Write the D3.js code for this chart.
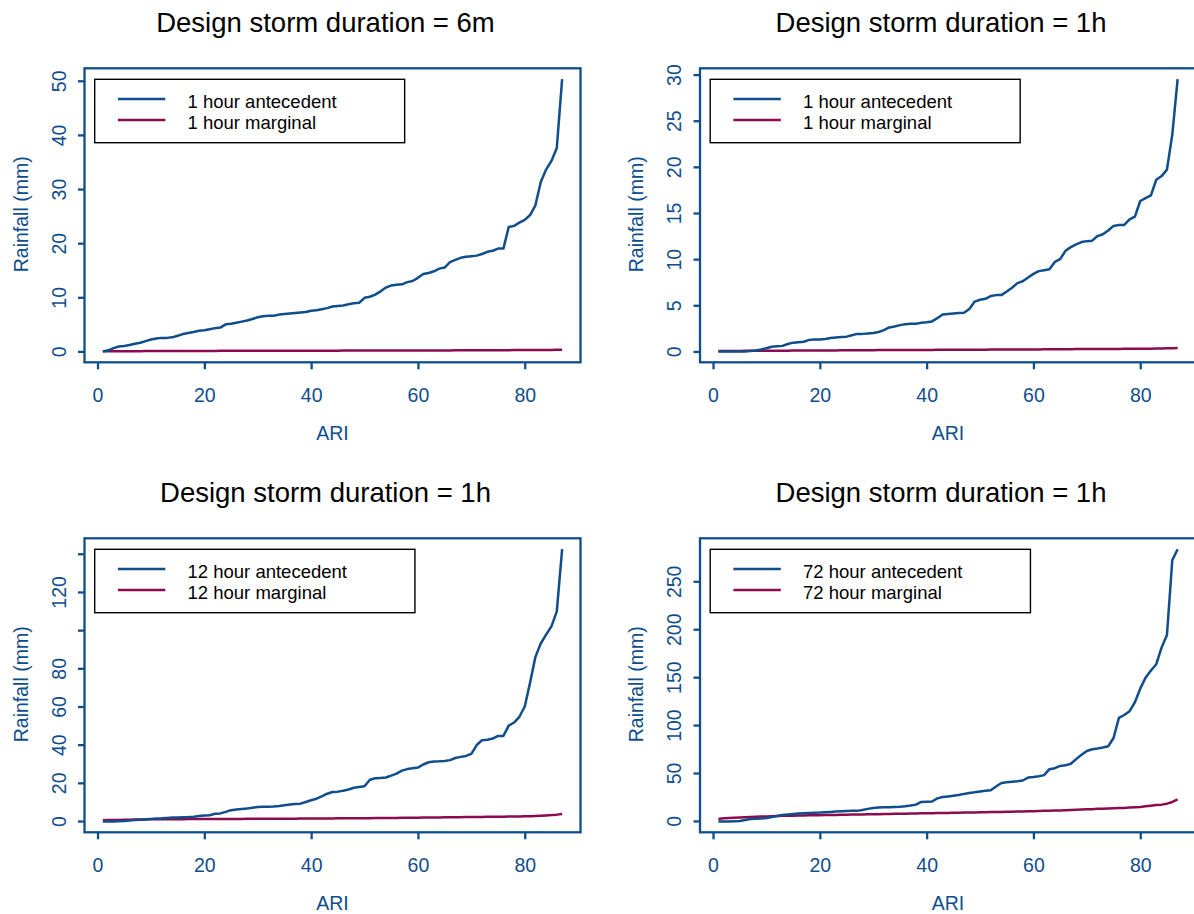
<!DOCTYPE html>
<html>
<head>
<meta charset="utf-8">
<script src="https://cdn.jsdelivr.net/npm/d3@7/dist/d3.min.js"></script>
<style>
  body { margin: 0; background: #ffffff; }
  svg { display: block; font-family: "Liberation Sans", Arial, Helvetica, sans-serif; }
</style>
</head>
<body>
<svg id="chart" width="1194" height="914"></svg>
<script>
// Rank of each event (x axis "ARI")
const ari = d3.range(1, 88);

// Design storm 6 minutes, 1 hour antecedent / marginal rainfall (mm)
const ante6m = [
  0.0, 0.2, 0.6, 0.9, 1.0, 1.2, 1.4, 1.6, 1.9, 2.2,
  2.4, 2.5, 2.5, 2.6, 2.9, 3.2, 3.4, 3.6, 3.8, 3.9,
  4.1, 4.3, 4.4, 5.0, 5.1, 5.3, 5.5, 5.7, 6.0, 6.3,
  6.5, 6.6, 6.6, 6.8, 6.9, 7.0, 7.1, 7.2, 7.3, 7.5,
  7.6, 7.8, 8.0, 8.3, 8.4, 8.5, 8.7, 8.9, 9.0, 9.9,
  10.1, 10.5, 11.1, 11.8, 12.2, 12.3, 12.4, 12.8, 13.0, 13.6,
  14.3, 14.5, 14.8, 15.3, 15.5, 16.5, 16.9, 17.3, 17.5, 17.6,
  17.7, 18.0, 18.4, 18.6, 19.0, 19.0, 23.0, 23.2, 23.8, 24.3,
  25.2, 27.0, 31.3, 33.6, 35.2, 37.6, 50.3
];
const marg6m = [
  0.02, 0.03, 0.03, 0.04, 0.04, 0.05, 0.05, 0.05, 0.06, 0.06,
  0.06, 0.07, 0.07, 0.07, 0.08, 0.08, 0.08, 0.08, 0.09, 0.09,
  0.09, 0.09, 0.10, 0.10, 0.10, 0.10, 0.11, 0.11, 0.11, 0.11,
  0.12, 0.12, 0.12, 0.12, 0.12, 0.13, 0.13, 0.13, 0.13, 0.13,
  0.14, 0.14, 0.14, 0.14, 0.14, 0.15, 0.15, 0.15, 0.15, 0.15,
  0.16, 0.16, 0.16, 0.16, 0.17, 0.17, 0.17, 0.17, 0.18, 0.18,
  0.18, 0.18, 0.19, 0.19, 0.19, 0.19, 0.20, 0.20, 0.20, 0.21,
  0.21, 0.21, 0.22, 0.22, 0.22, 0.23, 0.23, 0.24, 0.24, 0.25,
  0.25, 0.26, 0.26, 0.27, 0.28, 0.29, 0.31
];

// Design storm 1 hour, 1 hour antecedent / marginal rainfall (mm)
const ante1h = [
  0.0, 0.0, 0.0, 0.0, 0.0, 0.0, 0.05, 0.1, 0.2, 0.35,
  0.5, 0.55, 0.6, 0.8, 0.95, 1.0, 1.05, 1.25, 1.3, 1.3,
  1.35, 1.45, 1.5, 1.55, 1.6, 1.75, 1.9, 1.9, 1.95, 2.0,
  2.1, 2.3, 2.6, 2.7, 2.85, 2.95, 3.0, 3.0, 3.1, 3.15,
  3.25, 3.6, 4.0, 4.05, 4.1, 4.15, 4.2, 4.6, 5.4, 5.6,
  5.7, 6.0, 6.1, 6.1, 6.5, 6.9, 7.4, 7.6, 8.0, 8.4,
  8.7, 8.8, 8.9, 9.7, 10.0, 10.9, 11.3, 11.6, 11.85, 11.95,
  12.0, 12.5, 12.7, 13.1, 13.6, 13.7, 13.7, 14.3, 14.6, 16.3,
  16.6, 16.9, 18.6, 19.0, 19.7, 23.5, 29.5
];
const marg1h = [
  0.04, 0.04, 0.05, 0.05, 0.05, 0.06, 0.06, 0.06, 0.07, 0.07,
  0.07, 0.08, 0.08, 0.08, 0.09, 0.09, 0.09, 0.10, 0.10, 0.10,
  0.11, 0.11, 0.11, 0.12, 0.12, 0.12, 0.12, 0.13, 0.13, 0.13,
  0.14, 0.14, 0.14, 0.14, 0.15, 0.15, 0.15, 0.16, 0.16, 0.16,
  0.16, 0.17, 0.17, 0.17, 0.18, 0.18, 0.18, 0.18, 0.19, 0.19,
  0.19, 0.20, 0.20, 0.20, 0.21, 0.21, 0.21, 0.22, 0.22, 0.22,
  0.22, 0.23, 0.23, 0.23, 0.24, 0.24, 0.24, 0.25, 0.25, 0.25,
  0.26, 0.26, 0.26, 0.27, 0.27, 0.27, 0.28, 0.28, 0.29, 0.29,
  0.30, 0.30, 0.31, 0.32, 0.33, 0.34, 0.36
];

// Design storm 1 hour, 12 hour antecedent / marginal rainfall (mm)
const ante12h = [
  -0.2, -0.2, -0.2, -0.1, 0.0, 0.3, 0.5, 0.7, 0.9, 1.1,
  1.3, 1.4, 1.6, 1.8, 1.9, 2.0, 2.1, 2.3, 2.6, 2.9,
  3.0, 3.8, 4.0, 4.8, 5.7, 6.0, 6.3, 6.6, 7.0, 7.4,
  7.5, 7.5, 7.6, 7.9, 8.3, 8.7, 8.9, 9.1, 10.0, 10.9,
  11.7, 12.9, 14.3, 15.2, 15.4, 15.9, 16.5, 17.4, 17.8, 18.2,
  21.6, 22.4, 22.6, 22.8, 23.8, 24.8, 26.4, 27.2, 27.6, 28.0,
  29.6, 30.8, 31.2, 31.3, 31.5, 31.9, 33.0, 33.6, 34.1, 35.2,
  39.8, 42.3, 42.6, 43.2, 44.6, 44.6, 50.0, 51.6, 54.6, 60.0,
  72.5, 86.0, 93.0, 97.6, 102.0, 109.8, 142.4
];
const marg12h = [
  0.40, 0.50, 0.55, 0.60, 0.65, 0.70, 0.75, 0.80, 0.85, 0.90,
  0.90, 0.92, 0.94, 0.95, 0.96, 0.98, 1.00, 1.00, 1.02, 1.04,
  1.05, 1.06, 1.08, 1.09, 1.10, 1.11, 1.12, 1.14, 1.15, 1.16,
  1.17, 1.18, 1.20, 1.21, 1.22, 1.24, 1.25, 1.26, 1.28, 1.30,
  1.32, 1.34, 1.36, 1.38, 1.40, 1.42, 1.44, 1.46, 1.48, 1.50,
  1.52, 1.54, 1.57, 1.60, 1.62, 1.65, 1.68, 1.71, 1.74, 1.78,
  1.80, 1.83, 1.86, 1.90, 1.93, 1.96, 2.00, 2.03, 2.06, 2.10,
  2.13, 2.16, 2.20, 2.23, 2.26, 2.30, 2.34, 2.38, 2.42, 2.48,
  2.55, 2.65, 2.78, 2.92, 3.10, 3.35, 3.70
];

// Design storm 1 hour, 72 hour antecedent / marginal rainfall (mm)
const ante72h = [
  -0.5, -0.5, -0.5, -0.3, 0.0, 1.0, 2.0, 2.2, 2.5, 3.0,
  4.0, 5.2, 6.2, 6.7, 7.2, 7.8, 8.1, 8.4, 8.6, 8.7,
  9.0, 9.4, 9.8, 10.1, 10.4, 10.5, 10.5, 11.5, 12.6, 13.6,
  14.0, 14.3, 14.4, 14.6, 14.8, 15.2, 16.0, 17.0, 19.8, 20.0,
  20.3, 23.5, 25.0, 25.6, 26.3, 27.0, 28.2, 29.2, 29.9, 30.8,
  31.6, 32.1, 36.0, 39.6, 40.3, 40.8, 41.3, 42.2, 45.2, 45.8,
  46.6, 47.8, 54.0, 55.0, 57.4, 58.0, 59.6, 64.5, 69.0, 73.0,
  74.8, 75.6, 76.6, 77.9, 86.5, 107.5, 110.5, 114.5, 123.8, 138.0,
  149.5, 157.0, 163.5, 181.0, 194.0, 272.0, 283.5
];
const marg72h = [
  2.0, 2.8, 3.0, 3.3, 3.6, 3.9, 4.1, 4.3, 4.5, 4.7,
  4.9, 5.1, 5.3, 5.4, 5.5, 5.6, 5.7, 5.8, 5.9, 6.0,
  6.1, 6.2, 6.3, 6.4, 6.5, 6.6, 6.7, 6.8, 6.9, 7.0,
  7.1, 7.2, 7.3, 7.4, 7.5, 7.6, 7.7, 7.8, 7.9, 8.0,
  8.1, 8.2, 8.3, 8.4, 8.5, 8.6, 8.7, 8.8, 8.9, 9.0,
  9.1, 9.2, 9.3, 9.4, 9.5, 9.6, 9.8, 9.9, 10.0, 10.2,
  10.3, 10.5, 10.6, 10.8, 10.9, 11.1, 11.3, 11.6, 11.9, 12.1,
  12.3, 12.6, 12.8, 13.0, 13.2, 13.4, 13.6, 13.9, 14.2, 14.6,
  15.2, 15.9, 16.5, 17.0, 18.0, 19.8, 22.5
];

// Axis ticks and labels
const xTicks = [0, 20, 40, 60, 80];
const yTicks6m = [0, 10, 20, 30, 40, 50];
const yTicks1h = [0, 5, 10, 15, 20, 25, 30];
const yTicks12h = [0, 20, 40, 60, 80, 100, 120, 140];
const yLabels12h = ["0", "20", "40", "60", "80", "", "120", ""];
const yTicks72h = [0, 50, 100, 150, 200, 250];

const titles = [
  "Design storm duration = 6m",
  "Design storm duration = 1h",
  "Design storm duration = 1h",
  "Design storm duration = 1h"
];
const legend1h = ["1 hour antecedent", "1 hour marginal"];
const legend12h = ["12 hour antecedent", "12 hour marginal"];
const legend72h = ["72 hour antecedent", "72 hour marginal"];

const xLabel = "ARI";
const yLabel = "Rainfall (mm)";

// ---- styling / layout ----
const BLUE = "#104E8B";
const RED = "#8B0A50";
const boxW = 496, boxH = 294;
const tickFont = "19.5px";

const panels = [
  { left: 84.5, top: 68.3, title: titles[0], ante: ante6m, marg: marg6m, yTicks: yTicks6m, yLabels: null, legend: legend1h },
  { left: 700,  top: 68.3, title: titles[1], ante: ante1h, marg: marg1h, yTicks: yTicks1h, yLabels: null, legend: legend1h },
  { left: 84.5, top: 538.3, title: titles[2], ante: ante12h, marg: marg12h, yTicks: yTicks12h, yLabels: yLabels12h, legend: legend12h },
  { left: 700,  top: 538.3, title: titles[3], ante: ante72h, marg: marg72h, yTicks: yTicks72h, yLabels: null, legend: legend72h }
];

// R-style 4% padding of the data range
const pad = ([a, b]) => { const r = b - a; return [a - 0.04 * r, b + 0.04 * r]; };

const svg = d3.select("#chart");

panels.forEach(p => {
  const g = svg.append("g");
  const right = p.left + boxW, bottom = p.top + boxH;
  const cx = p.left + boxW / 2;

  const x = d3.scaleLinear().domain(pad(d3.extent(ari))).range([p.left, right]);
  const y = d3.scaleLinear()
    .domain(pad(d3.extent(p.ante.concat(p.marg))))
    .range([bottom, p.top]);

  // Series lines
  const line = vals => d3.line().x((d, i) => x(ari[i])).y(d => y(d))(vals);
  g.append("path").attr("d", line(p.marg))
    .attr("fill", "none").attr("stroke", RED).attr("stroke-width", 2.5)
    .attr("stroke-linejoin", "round");
  g.append("path").attr("d", line(p.ante))
    .attr("fill", "none").attr("stroke", BLUE).attr("stroke-width", 2.5)
    .attr("stroke-linejoin", "round");

  // Plot frame
  g.append("rect").attr("x", p.left).attr("y", p.top)
    .attr("width", boxW).attr("height", boxH)
    .attr("fill", "none").attr("stroke", BLUE).attr("stroke-width", 2.3);

  // X axis
  const xa = g.append("g").attr("transform", `translate(0,${bottom})`)
    .call(d3.axisBottom(x).tickValues(xTicks).tickSize(7).tickSizeOuter(0));
  xa.select(".domain").remove();
  xa.selectAll(".tick line").attr("stroke", BLUE).attr("stroke-width", 2.3);
  xa.selectAll(".tick text").attr("y", 39.4).attr("dy", 0)
    .attr("fill", BLUE).style("font-size", tickFont).style("font-family", "inherit");

  // Y axis (labels parallel to the axis)
  const labels = p.yLabels;
  const ya = g.append("g").attr("transform", `translate(${p.left},0)`)
    .call(d3.axisLeft(y).tickValues(p.yTicks).tickSize(6.5).tickSizeOuter(0)
      .tickFormat((d, i) => labels ? labels[i] : String(d)));
  ya.select(".domain").remove();
  ya.selectAll(".tick line").attr("stroke", BLUE).attr("stroke-width", 2.3);
  ya.selectAll(".tick text").attr("x", 0).attr("y", -19).attr("dy", 0)
    .attr("text-anchor", "middle").attr("transform", "rotate(-90)")
    .attr("fill", BLUE).style("font-size", tickFont).style("font-family", "inherit");

  // Axis titles
  g.append("text").attr("x", cx).attr("y", bottom + 77.7)
    .attr("text-anchor", "middle").attr("fill", BLUE)
    .style("font-size", tickFont).text(xLabel);
  g.append("text")
    .attr("transform", `translate(${p.left - 57},${p.top + boxH / 2 - 1}) rotate(-90)`)
    .attr("text-anchor", "middle").attr("fill", BLUE)
    .style("font-size", tickFont).text(yLabel);

  // Panel title
  g.append("text").attr("x", cx - 7).attr("y", p.top - 36.6)
    .attr("text-anchor", "middle").attr("fill", "#000")
    .style("font-size", "27.5px").text(p.title);

  // Legend
  const lg = g.append("g");
  const lx = p.left + 10.2, ly = p.top + 11;
  const rows = [
    { label: p.legend[0], color: BLUE, yy: p.top + 30.7 },
    { label: p.legend[1], color: RED, yy: p.top + 51.7 }
  ];
  const frame = lg.append("rect").attr("x", lx).attr("y", ly).attr("height", 63.4)
    .attr("fill", "#fff").attr("stroke", "#000").attr("stroke-width", 1.4);
  let maxW = 0;
  rows.forEach(r => {
    lg.append("line").attr("x1", p.left + 33.4).attr("x2", p.left + 80.8)
      .attr("y1", r.yy).attr("y2", r.yy)
      .attr("stroke", r.color).attr("stroke-width", 2.5);
    const t = lg.append("text").attr("x", p.left + 103).attr("y", r.yy + 8.5)
      .attr("fill", "#000").style("font-size", "18.5px").text(r.label);
    maxW = Math.max(maxW, t.node().getComputedTextLength());
  });
  frame.attr("width", p.left + 103 + maxW + 68 - lx);
});
</script>
</body>
</html>
